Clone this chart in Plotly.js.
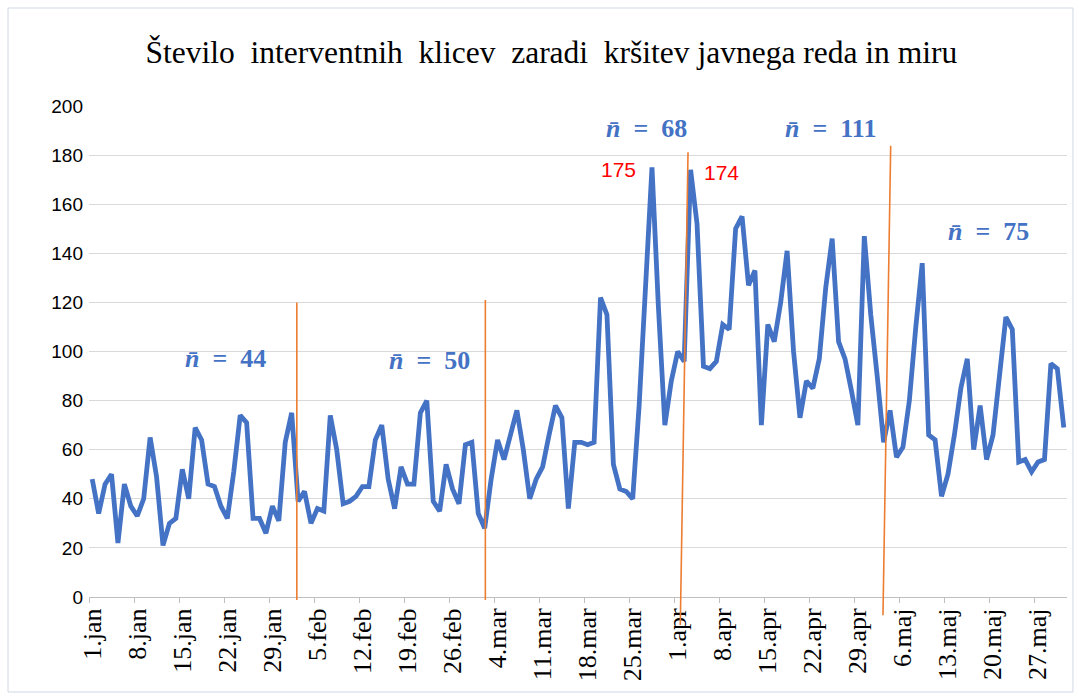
<!DOCTYPE html>
<html>
<head>
<meta charset="utf-8">
<script src="https://cdn.plot.ly/plotly-3.0.1.min.js"></script>
<style>html,body{margin:0;padding:0;background:#fff;}#chart{width:1079px;height:698px;}</style>
</head>
<body>
<div id="chart"></div>
<script>
// Daily counts, 1 Jan – 31 May 2020 (index 0 = 1.jan)
const dayIndex = Array.from({length: 152}, (_, i) => i);
const calls = [
  48,34,46,50,22,46,37,33,40,65,49,21,30,32,52,40,69,64,46,45,
  37,32,51,74,71,32,32,26,37,31,63,75,39,43,30,36,35,74,60,38,
  39,41,45,45,64,70,48,36,53,46,46,75,80,39,35,54,44,38,62,63,
  34,28,48,64,56,66,76,60,40,48,53,66,78,73,36,63,63,62,63,122,
  115,54,44,43,40,78,128,175,118,70,88,100,96,174,152,94,93,96,111,109,
  150,155,127,133,70,111,104,120,141,100,73,88,85,97,126,146,104,97,84,70,
  147,115,90,63,76,57,61,80,110,136,66,64,41,50,66,85,97,60,78,56,
  66,92,114,109,55,56,51,55,56,95,93,69
];
const tickLabels = ["1.jan","8.jan","15.jan","22.jan","29.jan","5.feb","12.feb","19.feb","26.feb",
  "4.mar","11.mar","18.mar","25.mar","1.apr","8.apr","15.apr","22.apr","29.apr","6.maj","13.maj","20.maj","27.maj"];
const tickPositions = tickLabels.map((_, k) => k * 7);

// period means
const meanLabels = ["44", "50", "68", "111", "75"];
const meanX = [20.7, 52.4, 86.2, 114.8, 139.3];
const meanY = [97, 96.5, 191, 191, 148.7];
// peak labels
const peakLabels = ["175", "174"];
const peakX = [81.8, 97.8];
const peakY = [174, 173];
// separator lines (day index at top / bottom, paper y top / bottom)
const sepXTop = [31.8, 61.1, 92.6, 124.1];
const sepXBottom = [31.8, 61.1, 91.4, 122.9];
const sepYTop = [0.6, 0.605, 0.906, 0.919];
const sepYBottom = [-0.006, -0.006, -0.057, -0.037];

const BLUE = '#4472C4';
const ORANGE = '#ED7D31';
const NB = '\u00A0';

const trace = {
  x: dayIndex, y: calls, type: 'scatter', mode: 'lines',
  line: {color: BLUE, width: 4.8}, hoverinfo: 'skip'
};

const annotations = [];
meanLabels.forEach((t, k) => annotations.push({
  x: meanX[k], y: meanY[k], xref: 'x', yref: 'y', showarrow: false,
  text: '<b><i>n\u0304</i>' + NB + ' =' + NB + ' ' + t + '</b>',
  font: {family: 'Liberation Serif, DejaVu Serif, serif', size: 26, color: BLUE}
}));
peakLabels.forEach((t, k) => annotations.push({
  x: peakX[k], y: peakY[k], xref: 'x', yref: 'y', showarrow: false,
  text: t, font: {family: 'Liberation Sans, Arial, sans-serif', size: 21, color: '#FF0000'}
}));

const shapes = sepXTop.map((xt, k) => ({
  type: 'line', xref: 'x', yref: 'paper',
  x0: xt, x1: sepXBottom[k], y0: sepYTop[k], y1: sepYBottom[k],
  line: {color: ORANGE, width: 1.6}
}));
shapes.push({
  type: 'rect', xref: 'paper', yref: 'paper',
  x0: -0.0828, x1: 1.0061, y0: -0.1935, y1: 1.1996,
  line: {color: '#D0D7E5', width: 1}
});

const titleText = 'Število' + NB + ' interventnih' + NB + ' klicev' + NB + ' zaradi' + NB + ' kršitev javnega reda in miru';

const layout = {
  width: 1079, height: 698,
  margin: {l: 89, r: 12, t: 106, b: 101, pad: 0},
  paper_bgcolor: '#ffffff', plot_bgcolor: '#ffffff',
  showlegend: false,
  title: {
    text: titleText,
    font: {family: 'Liberation Serif, Times New Roman, serif', size: 31.5, color: '#000000'},
    x: 0.511, xanchor: 'center', y: 0.925, yanchor: 'middle'
  },
  xaxis: {
    type: 'linear', range: [-0.5, 151.5], fixedrange: true,
    tickmode: 'array', tickvals: tickPositions, ticktext: tickLabels,
    tickangle: -90, ticks: '', showgrid: false, zeroline: false,
    showline: true, linecolor: '#BFBFBF', linewidth: 1,
    tickfont: {family: 'Liberation Serif, Times New Roman, serif', size: 26, color: '#000000'},
    minor: {tick0: -0.5, dtick: 7, ticks: 'outside', ticklen: 5, tickcolor: '#BFBFBF', tickwidth: 1, showgrid: false}
  },
  yaxis: {
    range: [0, 200], dtick: 20, tick0: 0, fixedrange: true,
    showgrid: true, gridcolor: '#D9D9D9', gridwidth: 1,
    zeroline: false, showline: false, ticks: '',
    ticklabelstandoff: 5,
    tickfont: {family: 'Liberation Sans, Arial, sans-serif', size: 19, color: '#000000'}
  },
  annotations: annotations,
  shapes: shapes
};

Plotly.newPlot('chart', [trace], layout, {displayModeBar: false, staticPlot: true});
</script>
</body>
</html>
